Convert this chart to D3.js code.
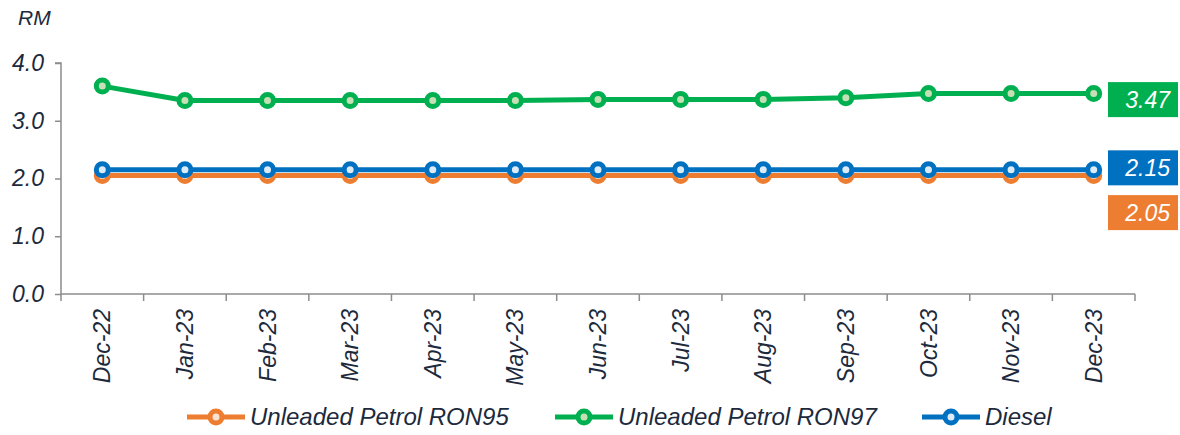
<!DOCTYPE html>
<html><head><meta charset="utf-8">
<script src="https://cdn.jsdelivr.net/npm/d3@7"></script>
<style>
html,body{margin:0;padding:0;background:#fff;}
text{font-family:"Liberation Sans",Arial,sans-serif;font-style:italic;}
</style></head>
<body>
<svg id="c" width="1180" height="435"></svg>
<script>
const categories = ["Dec-22","Jan-23","Feb-23","Mar-23","Apr-23","May-23","Jun-23","Jul-23","Aug-23","Sep-23","Oct-23","Nov-23","Dec-23"];
const ron95 = [2.05,2.05,2.05,2.05,2.05,2.05,2.05,2.05,2.05,2.05,2.05,2.05,2.05];
const ron97 = [3.60,3.35,3.35,3.35,3.35,3.35,3.37,3.37,3.37,3.40,3.47,3.47,3.47];
const diesel = [2.15,2.15,2.15,2.15,2.15,2.15,2.15,2.15,2.15,2.15,2.15,2.15,2.15];
const yTicks = [0,1,2,3,4];
const seriesNames = ["Unleaded Petrol RON95","Unleaded Petrol RON97","Diesel"];
const endLabels = ["2.05","3.47","2.15"];

const series = [
  {name:seriesNames[0], values:ron95, color:"#ED7D31", fill:"#FBE3D1", label:endLabels[0], dy:37},
  {name:seriesNames[1], values:ron97, color:"#00B050", fill:"#C5E0B4", label:endLabels[1], dy:6},
  {name:seriesNames[2], values:diesel, color:"#0070C0", fill:"#DDEBF7", label:endLabels[2], dy:-2}
];
const drawOrder = [series[0], series[2], series[1]];

const svg = d3.select("#c");
const x = d3.scaleBand().domain(categories).range([61,1135]).padding(0);
const y = d3.scaleLinear().domain([0,4]).range([294,63]);
const textColor = "#1C2A3C";
const axisColor = "#8C8C8C";

// y axis
const ya = svg.append("g").attr("transform","translate(61,0)")
  .call(d3.axisLeft(y).tickValues(yTicks).tickFormat(d3.format(".1f")).tickSize(6).tickPadding(11));
ya.select(".domain").attr("stroke",axisColor).attr("stroke-width",1.5).attr("d","M-6,63H0V294");
ya.selectAll(".tick line").attr("stroke",axisColor).attr("stroke-width",1.5);
ya.selectAll(".tick text").attr("fill",textColor).style("font-size","23px").style("font-family","Liberation Sans, Arial, sans-serif").style("font-style","italic");

// x axis
const xa = svg.append("g").attr("transform","translate(0,294)")
  .call(d3.axisBottom(x).tickSize(0).tickPadding(0));
xa.select(".domain").attr("stroke",axisColor).attr("stroke-width",1.5).attr("d","M61,0H1135");
xa.selectAll(".tick text").attr("fill",textColor).style("font-size","23px")
  .style("font-family","Liberation Sans, Arial, sans-serif").style("font-style","italic")
  .attr("text-anchor","end").attr("dy","0.35em")
  .attr("transform","translate(0,15) rotate(-90)").attr("x",0).attr("y",0);
const bounds = categories.map(c=>x(c)).concat([x(categories[categories.length-1])+x.bandwidth()]);
xa.selectAll("line.bt").data(bounds).enter().append("line").attr("class","bt")
  .attr("x1",d=>d).attr("x2",d=>d).attr("y1",0).attr("y2",7).attr("stroke",axisColor).attr("stroke-width",1.5);

// RM label
svg.append("text").attr("x",18).attr("y",25).text("RM").attr("fill",textColor).style("font-size","21px");

const cx = d=>x(d)+x.bandwidth()/2;
const line = d3.line().x((d,i)=>cx(categories[i])).y(d=>y(d));

drawOrder.forEach(s=>{
  const g = svg.append("g");
  g.append("path").datum(s.values).attr("d",line).attr("fill","none").attr("stroke",s.color).attr("stroke-width",5).attr("stroke-linejoin","round");
  g.selectAll("circle").data(s.values).enter().append("circle")
    .attr("cx",(d,i)=>cx(categories[i])).attr("cy",d=>y(d)).attr("r",6)
    .attr("fill",s.fill).attr("stroke",s.color).attr("stroke-width",5);
});

// end labels
series.forEach(s=>{
  const v = s.values[s.values.length-1];
  const yc = y(v)+s.dy;
  svg.append("rect").attr("x",1108).attr("y",yc-17.5).attr("width",70).attr("height",35).attr("fill",s.color);
  svg.append("text").attr("x",1170).attr("y",yc).attr("dy","0.36em").attr("text-anchor","end")
    .attr("fill","#fff").style("font-size","23px").text(s.label);
});

// legend
const legendX = [187,555,922];
series.forEach((s,i)=>{
  const g = svg.append("g").attr("transform",`translate(${legendX[i]},417)`);
  g.append("line").attr("x1",0).attr("x2",58).attr("y1",0).attr("y2",0).attr("stroke",s.color).attr("stroke-width",5);
  g.append("circle").attr("cx",29).attr("cy",0).attr("r",6).attr("fill",s.fill).attr("stroke",s.color).attr("stroke-width",5);
  g.append("text").attr("x",63).attr("y",0).attr("dy","0.35em").attr("fill",textColor).style("font-size","24px").text(s.name);
});
</script>
</body></html>
